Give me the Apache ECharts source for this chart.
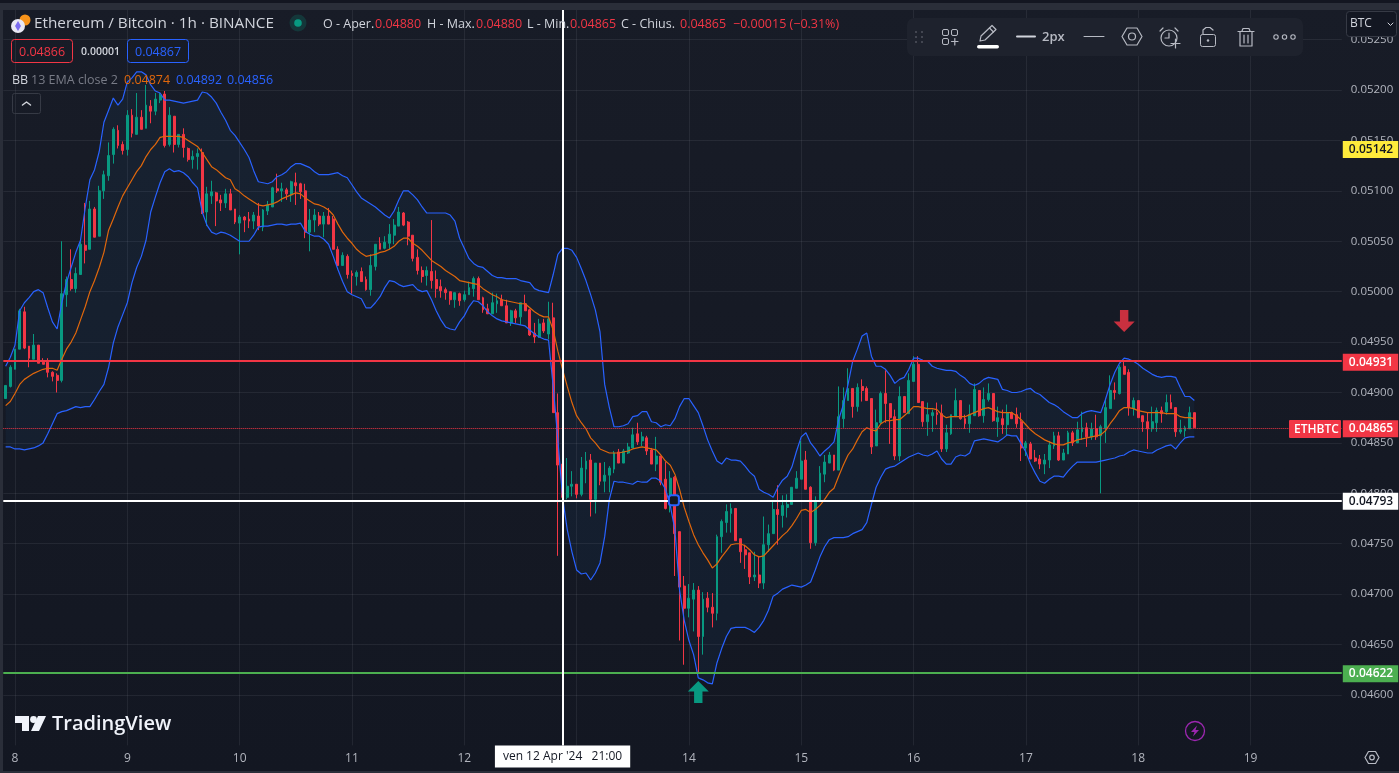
<!DOCTYPE html>
<html>
<head>
<meta charset="utf-8">
<title>ETH/BTC 1h</title>
<style>html,body{margin:0;padding:0;background:#131722;overflow:hidden}#chart{width:1399px;height:773px}</style>
<script src="https://cdn.jsdelivr.net/npm/echarts@6/dist/echarts.min.js"></script>
</head>
<body>
<div id="chart"></div>
<script>
// ETH/BTC hourly candles, Apr 7 22:00 through Apr 18 12:00. Prices are in units of 0.00001 BTC.
const openPrices = [4894,4906,
4923,4943,4980,4946,4933,4947,4930,4930,4920,4917,4912,4997,5012,5003,5017,5046,5042,5082,5055,5100,5115,5136,5160,5146,
5141,5175,5156,5173,5162,5184,5179,5190,5196,5146,5174,5146,5156,5142,5131,5134,5138,5079,5095,5098,5091,5088,5097,5082,
5068,5074,5072,5070,5075,5064,5080,5084,5102,5100,5101,5096,5108,5107,5100,5059,5071,5075,5067,5075,5072,5042,5026,5035,
5018,5015,5020,5012,5002,5025,5048,5043,5048,5056,5065,5078,5069,5056,5034,5021,5016,5020,5012,5005,5002,5000,4992,4998,
4992,4997,5003,5013,4994,4983,4978,4988,4992,4986,4969,4981,4975,4988,4982,4959,4955,4969,4958,4974,4880,4829,4796,4807,
4809,4799,4824,4833,4794,4830,4812,4818,4824,4841,4830,4840,4845,4859,4852,4855,4843,4829,4837,4814,4794,4816,4762,4708,
4686,4695,4704,4658,4696,4687,4681,4757,4771,4780,4785,4755,4744,4741,4717,4719,4711,4749,4760,4784,4778,4786,4789,4805,
4814,4833,4806,4751,4792,4819,4830,4838,4823,4874,4892,4904,4886,4906,4904,4894,4847,4870,4899,4889,4876,4837,4896,4879,
4911,4928,4891,4871,4877,4880,4879,4844,4859,4876,4892,4874,4869,4877,4902,4877,4893,4899,4871,4874,4868,4880,4878,4871,
4845,4849,4835,4834,4829,4833,4847,4857,4833,4839,4860,4850,4861,4865,4856,4864,4857,4864,4884,4902,4899,4926,4920,4884,
4892,4877,4871,4864,4870,4882,4881,4890,4885,4861,4862,4864,4880];
const closePrices = [4907,4925,
4943,4981,4944,4934,4947,4929,4928,4920,4916,4912,4998,5012,5003,5018,5047,5041,5082,5054,5100,5116,5135,5161,5145,5140,
5175,5157,5173,5161,5185,5179,5191,5195,5145,5175,5146,5156,5143,5131,5134,5137,5078,5097,5099,5090,5088,5097,5081,5069,
5074,5071,5070,5076,5065,5081,5086,5103,5100,5102,5097,5109,5105,5099,5059,5071,5076,5067,5075,5067,5042,5026,5036,5017,
5016,5019,5010,5002,5026,5047,5042,5049,5057,5066,5079,5066,5055,5033,5021,5015,5021,5011,5003,5001,4999,4992,4999,4991,
4997,5004,5013,4992,4982,4978,4989,4991,4986,4969,4981,4974,4989,4981,4957,4955,4968,4961,4973,4880,4828,4796,4807,4809,
4799,4825,4832,4794,4830,4812,4818,4825,4840,4830,4842,4846,4858,4851,4856,4842,4829,4837,4811,4785,4815,4760,4707,4686,
4696,4704,4658,4695,4687,4681,4757,4772,4782,4785,4753,4742,4739,4717,4719,4711,4749,4760,4784,4779,4788,4789,4806,4815,
4832,4804,4751,4792,4820,4831,4838,4823,4876,4892,4904,4886,4905,4902,4892,4846,4870,4899,4889,4875,4837,4896,4880,4912,
4928,4890,4871,4878,4880,4878,4844,4860,4878,4892,4874,4869,4878,4903,4877,4893,4899,4872,4875,4868,4880,4874,4869,4845,
4850,4834,4832,4829,4833,4848,4857,4833,4840,4860,4850,4863,4865,4856,4864,4856,4866,4885,4902,4900,4925,4918,4885,4892,
4875,4871,4864,4871,4882,4879,4890,4884,4861,4863,4865,4880,4865];
const lowPrices = [4894,4905,
4923,4943,4943,4925,4933,4929,4928,4915,4911,4900,4910,4985,5001,4999,5017,5028,5042,5054,5055,5092,5110,5127,5142,5136,
5135,5153,5156,5161,5162,5167,5175,5187,5143,5144,5138,5143,5133,5129,5122,5121,5077,5065,5087,5065,5080,5083,5081,5067,
5037,5059,5063,5062,5061,5060,5076,5084,5098,5089,5091,5089,5086,5092,5053,5040,5059,5065,5054,5067,5042,5026,5026,5013,
4998,5006,5010,5001,4996,5021,5042,5042,5042,5047,5065,5065,5046,5030,5017,5009,5006,5003,4994,4994,4992,4987,4984,4986,
4990,4997,4995,4992,4979,4978,4978,4979,4986,4969,4966,4969,4967,4981,4956,4949,4954,4959,4953,4880,4738,4786,4794,4797,
4795,4797,4810,4777,4780,4808,4801,4801,4820,4830,4830,4839,4845,4848,4847,4838,4829,4822,4808,4784,4781,4718,4654,4630,
4677,4663,4622,4640,4682,4667,4674,4741,4761,4761,4753,4731,4725,4710,4713,4706,4705,4742,4760,4749,4766,4776,4789,4805,
4814,4804,4745,4748,4792,4811,4830,4822,4823,4865,4892,4875,4881,4891,4892,4839,4847,4869,4870,4849,4833,4832,4880,4879,
4911,4890,4866,4857,4861,4868,4841,4841,4858,4876,4873,4864,4860,4877,4876,4870,4891,4871,4856,4859,4857,4874,4865,4832,
4837,4834,4831,4824,4819,4825,4844,4832,4833,4839,4847,4850,4853,4846,4853,4853,4800,4850,4884,4893,4898,4918,4877,4877,
4875,4861,4844,4861,4861,4870,4878,4884,4856,4859,4856,4864,4865];
const highPrices = [4907,4927,
4943,4983,4985,4946,4958,4947,4934,4934,4921,4919,5050,5015,5042,5024,5050,5088,5090,5084,5105,5120,5148,5163,5165,5149,
5180,5181,5197,5180,5205,5190,5197,5197,5199,5183,5174,5156,5162,5143,5140,5142,5142,5104,5110,5099,5096,5102,5102,5082,
5076,5075,5079,5079,5088,5082,5090,5104,5117,5108,5103,5110,5118,5108,5107,5082,5082,5079,5079,5083,5075,5045,5039,5037,
5021,5021,5024,5015,5037,5047,5054,5055,5067,5072,5084,5079,5070,5056,5042,5025,5025,5071,5021,5012,5004,5000,4999,4999,
5001,5010,5015,5015,4995,4988,4999,4998,4997,4992,4982,4983,4989,4997,4983,4969,4973,4973,4990,4989,4899,4847,4835,4822,
4809,4836,4841,4839,4830,4830,4831,4827,4842,4844,4844,4850,4865,4870,4861,4857,4845,4856,4837,4831,4822,4817,4762,4718,
4710,4711,4708,4702,4702,4701,4759,4774,4789,4790,4785,4755,4749,4741,4742,4737,4777,4769,4793,4808,4798,4799,4806,4822,
4852,4842,4807,4797,4827,4838,4841,4838,4906,4905,4924,4904,4909,4913,4906,4894,4883,4901,4922,4889,4883,4906,4896,4919,
4936,4936,4891,4890,4883,4890,4888,4868,4878,4904,4892,4878,4888,4909,4902,4905,4909,4899,4886,4883,4888,4881,4885,4880,
4852,4851,4843,4838,4839,4852,4861,4861,4844,4862,4862,4871,4881,4870,4870,4878,4868,4894,4917,4910,4927,4931,4923,4895,
4892,4877,4880,4886,4885,4886,4898,4898,4885,4873,4867,4886,4880];

// Bollinger Bands (13, EMA, close, 2).
const bbBasis = [4887,4891,
4899,4908,4913,4916,4919,4921,4923,4924,4924,4922,4933,4943,4950,4959,4972,4985,5000,5011,5024,5039,5061,5072,5084,5095,
5103,5111,5119,5125,5134,5141,5146,5153,5154,5154,5154,5154,5153,5150,5147,5144,5138,5131,5124,5121,5117,5113,5111,5102,
5099,5095,5092,5089,5086,5085,5086,5087,5089,5092,5094,5096,5098,5097,5093,5090,5087,5086,5084,5081,5076,5067,5059,5053,
5048,5042,5038,5035,5036,5037,5039,5040,5042,5045,5050,5053,5053,5048,5045,5041,5036,5031,5028,5025,5021,5018,5015,5011,
5010,5009,5008,5007,5003,5000,4997,4995,4992,4991,4990,4989,4988,4988,4984,4980,4977,4975,4975,4962,4941,4923,4906,4890,
4877,4870,4864,4855,4850,4844,4842,4840,4840,4840,4841,4842,4844,4845,4846,4845,4844,4843,4838,4832,4828,4819,4804,4786,
4772,4759,4749,4741,4734,4726,4730,4737,4743,4749,4750,4750,4748,4744,4739,4737,4738,4743,4748,4753,4758,4762,4768,4775,
4783,4784,4781,4784,4788,4794,4801,4805,4817,4828,4838,4844,4853,4861,4865,4863,4862,4869,4872,4872,4873,4873,4877,4881,
4886,4886,4885,4884,4884,4883,4878,4875,4876,4876,4876,4876,4878,4880,4882,4884,4885,4883,4881,4880,4880,4880,4877,4873,
4868,4863,4859,4856,4853,4851,4849,4848,4848,4850,4851,4853,4854,4855,4856,4857,4858,4862,4869,4875,4882,4885,4885,4884,
4882,4881,4880,4880,4880,4880,4879,4879,4879,4876,4875,4875,4874];
const bbUpper = [4926,4935,
4947,4981,4989,4994,5000,5002,4999,4984,4970,4963,4989,5009,5024,5039,5051,5083,5111,5121,5139,5168,5180,5192,5185,5191,
5208,5212,5218,5218,5215,5205,5199,5197,5190,5190,5189,5188,5187,5188,5189,5190,5198,5197,5193,5187,5178,5170,5160,5155,
5148,5141,5133,5120,5109,5108,5107,5109,5114,5116,5119,5124,5127,5127,5125,5123,5119,5116,5116,5116,5117,5118,5115,5113,
5106,5099,5093,5090,5087,5084,5080,5076,5073,5080,5091,5100,5100,5096,5091,5084,5078,5078,5078,5078,5078,5076,5070,5053,
5043,5033,5028,5025,5024,5020,5016,5014,5014,5013,5013,5013,5011,5010,5009,5003,5001,5000,4999,5017,5037,5043,5043,5041,
5034,5023,5011,4997,4982,4960,4908,4885,4866,4866,4867,4869,4876,4877,4881,4881,4871,4870,4866,4868,4867,4874,4886,4894,
4894,4887,4880,4867,4853,4842,4832,4829,4835,4833,4833,4832,4827,4821,4817,4804,4801,4799,4796,4806,4813,4817,4826,4842,
4856,4860,4850,4844,4837,4842,4846,4851,4873,4888,4908,4931,4943,4956,4959,4936,4926,4926,4923,4917,4909,4913,4915,4923,
4934,4934,4932,4931,4926,4924,4923,4922,4922,4921,4917,4914,4909,4907,4909,4913,4915,4914,4913,4903,4902,4900,4900,4901,
4903,4904,4900,4898,4894,4890,4888,4885,4881,4878,4875,4875,4879,4881,4882,4881,4880,4893,4908,4920,4929,4934,4933,4931,
4928,4924,4921,4918,4916,4915,4916,4916,4915,4905,4896,4896,4892];
const bbLower = [4846,4846,
4844,4844,4843,4844,4845,4847,4850,4859,4869,4879,4881,4882,4884,4886,4885,4886,4886,4893,4901,4908,4925,4949,4965,4977,
4989,5009,5024,5035,5051,5079,5094,5108,5119,5122,5119,5120,5118,5114,5108,5103,5079,5066,5059,5057,5059,5058,5056,5053,
5050,5050,5050,5056,5064,5065,5065,5066,5067,5067,5066,5067,5067,5068,5060,5057,5055,5055,5052,5047,5035,5022,5010,5000,
4997,4995,4993,4984,4984,4989,4995,5004,5011,5010,5007,5005,5006,5007,5002,5000,5001,4992,4981,4972,4965,4963,4962,4970,
4976,4985,4991,4990,4986,4980,4976,4973,4971,4970,4969,4968,4967,4966,4962,4958,4955,4953,4952,4906,4853,4796,4764,4742,
4724,4720,4721,4714,4721,4731,4757,4794,4812,4811,4811,4810,4809,4812,4811,4811,4815,4815,4812,4804,4788,4764,4704,4674,
4654,4640,4617,4615,4612,4611,4632,4646,4658,4666,4667,4667,4667,4665,4662,4667,4674,4684,4698,4701,4705,4707,4709,4708,
4707,4709,4712,4724,4737,4747,4754,4756,4756,4756,4757,4760,4762,4764,4771,4789,4806,4816,4824,4826,4827,4830,4833,4836,
4838,4840,4838,4837,4839,4842,4834,4829,4829,4836,4838,4837,4840,4852,4853,4854,4853,4852,4851,4854,4858,4857,4857,4849,
4841,4829,4820,4812,4810,4814,4817,4817,4816,4822,4827,4831,4831,4831,4831,4831,4832,4833,4834,4835,4837,4838,4841,4843,
4842,4841,4840,4840,4843,4845,4847,4848,4844,4850,4855,4856,4856];

// Hours counted from Apr 8 00:00; the axis runs on past the last candle to leave empty room.
const firstHour = -2;
const lastAxisHour = 283;
const firstDayOfMonth = 8;

// Horizontal levels drawn on the chart.
const resistanceLevel = 4931;
const supportLevel = 4622;
const midLevel = 4793;
const lastPrice = 4865;
const alertPrice = 5142;

// Crosshair, annotation arrows and the small anchor marker, keyed by hour and price.
const crosshairHour = 117;
const sellArrow = [237, 4971];
const buyArrow = [146, 4603];
const anchorMarker = [141, 4793];

const UP = '#089981', DOWN = '#f23645', BLUE = '#2962ff', ORANGE = '#e0670c';
const AXIS_TEXT = '#b2b5be', ICON = '#b7bac3';
const UI_FONT = '"Open Sans", "Noto Sans", sans-serif';

const priceText = v => (v / 100000).toFixed(5);
const hours = [];
for (let h = firstHour; h <= lastAxisHour; h++) hours.push(String(h));
const axisIndex = h => h - firstHour;

const candles = openPrices.map((o, i) => [o, closePrices[i], lowPrices[i], highPrices[i]]);
const bbSpan = bbUpper.map((u, i) => u - bbLower[i]);

function levelLine(value, color, width, textColor, type) {
  return {
    yAxis: value,
    lineStyle: { color: width ? color : 'rgba(0,0,0,0)', width: width || 1, type: type || 'solid' },
    label: {
      show: true, position: 'end', distance: 1, offset: [0, 1], formatter: priceText(value),
      color: textColor, backgroundColor: color, padding: [4, 5, 1, 6],
      fontFamily: UI_FONT, fontSize: 12, fontWeight: 600
    }
  };
}

// Overlay helpers
const OVERLAY_Z = 100;
const box = (x, y, w, h, fill, stroke, r) => ({
  type: 'rect', z: OVERLAY_Z, silent: true,
  shape: { x: x, y: y, width: w, height: h, r: r || 0 },
  style: { fill: fill || 'transparent', stroke: stroke || 'transparent', lineWidth: stroke ? 1 : 0 }
});
const label = (x, y, text, color, size, extra) => ({
  type: 'text', z: OVERLAY_Z + 1, silent: true, x: x, y: y + 1,
  style: Object.assign({ text: text, fill: color, font: (size || 12) + 'px ' + UI_FONT, textVerticalAlign: 'middle', verticalAlign: 'middle' }, extra || {})
});
const ring = (cx, cy, r, stroke, width, fill) => ({
  type: 'circle', z: OVERLAY_Z + 1, silent: true, shape: { cx: cx, cy: cy, r: r },
  style: { fill: fill || 'transparent', stroke: stroke || 'transparent', lineWidth: width || 0 }
});
const stroke = (points, color, width, closed) => ({
  type: closed ? 'polygon' : 'polyline', z: OVERLAY_Z + 1, silent: true, shape: { points: points },
  style: { fill: 'transparent', stroke: color || ICON, lineWidth: width || 1.2, lineCap: 'round', lineJoin: 'round' }
});
const solid = (points, color) => ({
  type: 'polygon', z: OVERLAY_Z + 1, silent: true, shape: { points: points }, style: { fill: color }
});

const overlay = [
  // window frame
  box(0, 0, 1399, 3, '#131621'), box(0, 3, 1399, 7, '#2a2e39'), box(0, 3, 3, 770, '#2a2e39'), box(0, 771, 1399, 2, '#2a2e39'),

  // symbol icon
  ring(25, 20, 5.5, null, 0, '#f7931a'),
  ring(18, 26, 7, null, 0, '#e8e8f4'),
  solid([[18, 21], [21, 26], [18, 31], [15, 26]], '#7b6cf0'),
  label(34, 23, 'Ethereum / Bitcoin · 1h · BINANCE', '#d1d4dc', 15.3),
  ring(298, 23, 8.5, null, 0, 'rgba(8,153,129,0.22)'),
  ring(298, 23, 3.8, null, 0, '#089981'),

  // OHLC readout
  label(323, 23, 'O - Aper.', '#d1d4dc', 12.5), label(375, 23, priceText(openPrices[openPrices.length - 1]), DOWN, 12.5),
  label(427, 23, 'H - Max.', '#d1d4dc', 12.5), label(476, 23, priceText(highPrices[highPrices.length - 1]), DOWN, 12.5),
  label(527, 23, 'L - Min.', '#d1d4dc', 12.5), label(570, 23, priceText(lowPrices[lowPrices.length - 1]), DOWN, 12.5),
  label(621, 23, 'C - Chius.', '#d1d4dc', 12.5), label(680, 23, priceText(closePrices[closePrices.length - 1]), DOWN, 12.5),
  label(733, 23, '−0.00015 (−0.31%)', DOWN, 12.5),

  // sell / spread / buy boxes
  box(11.5, 39.5, 61, 23, 'transparent', DOWN, 3), label(19, 51, '0.04866', DOWN, 12.5),
  label(81, 51, '0.00001', '#d1d4dc', 10.5, { font: '600 10.5px ' + UI_FONT }),
  box(127.5, 39.5, 61, 23, 'transparent', BLUE, 3), label(135, 51, '0.04867', BLUE, 12.5),

  // indicator legend
  label(12, 79, 'BB', '#d1d4dc', 12.5), label(31, 79, '13 EMA close 2', '#787b86', 12.5),
  label(124, 79, priceText(bbBasis[bbBasis.length - 1]), ORANGE, 12.5),
  label(176, 79, priceText(bbUpper[bbUpper.length - 1]), BLUE, 12.5),
  label(227, 79, priceText(bbLower[bbLower.length - 1]), BLUE, 12.5),
  box(12.5, 93.5, 28, 20, 'transparent', '#363a45', 2),
  stroke([[22.5, 105], [26.5, 102], [30.5, 105]], '#d1d4dc', 1.5),

  // drawing toolbar
  box(907, 18, 396, 38, '#1e222d', null, 7),
  ring(916, 32, 1, null, 0, '#50535e'), ring(922, 32, 1, null, 0, '#50535e'),
  ring(916, 37, 1, null, 0, '#50535e'), ring(922, 37, 1, null, 0, '#50535e'),
  ring(916, 42, 1, null, 0, '#50535e'), ring(922, 42, 1, null, 0, '#50535e'),
  box(942.5, 29.5, 6, 6, 'transparent', ICON, 1.5), box(951.5, 29.5, 6, 6, 'transparent', ICON, 1.5), box(942.5, 38.5, 6, 6, 'transparent', ICON, 1.5),
  stroke([[951.5, 41.5], [958, 41.5]]), stroke([[954.8, 38.5], [954.8, 45]]),
  stroke([[980, 41], [981, 36], [992, 25.5], [996, 29.5], [985, 40], [980, 41]]), stroke([[989.5, 28], [993.5, 32]]),
  box(977, 45, 22, 3.5, '#ffffff', null, 1.7),
  stroke([[1017, 36.5], [1035, 36.5]], '#d1d4dc', 2), label(1042, 36, '2px', '#b7bac3', 13, { font: '600 13px ' + UI_FONT }),
  stroke([[1084, 36.5], [1104, 36.5]], ICON, 1),
  stroke([[1122, 36.5], [1127, 28], [1137, 28], [1142, 36.5], [1137, 45], [1127, 45]], ICON, 1.2, true),
  ring(1132, 36.5, 3.5, ICON, 1.2),
  ring(1169, 38, 8, ICON, 1.2),
  stroke([[1169, 33], [1169, 38], [1165, 38]]), stroke([[1160, 31], [1163, 28]]), stroke([[1178, 31], [1175, 28]]),
  box(1170, 41, 11, 7, '#1e222d'), stroke([[1171, 43.5], [1180, 43.5]]), stroke([[1175.5, 39], [1175.5, 48]]),
  box(1200.5, 34.5, 15, 12, 'transparent', ICON, 2), stroke([[1203, 34], [1203, 30], [1206, 27.5], [1210, 27.5], [1213, 30]]), ring(1208, 40.5, 1.2, null, 0, ICON),
  stroke([[1238, 31.5], [1254, 31.5]]), stroke([[1242, 31], [1243, 28.5], [1249, 28.5], [1250, 31]]),
  stroke([[1240, 32], [1240, 46], [1252, 46], [1252, 32]]), stroke([[1244, 35], [1244, 43]]), stroke([[1248, 35], [1248, 43]]),
  ring(1276, 37, 2.2, ICON, 1.1), ring(1284.5, 37, 2.2, ICON, 1.1), ring(1293, 37, 2.2, ICON, 1.1),

  // quote currency selector
  box(1346.5, 11.5, 50, 25, '#131722', '#363a45', 3),
  label(1350, 23, 'BTC', '#d1d4dc', 12),
  stroke([[1388, 23], [1390.5, 25.5], [1393, 23]], '#d1d4dc', 1),

  // symbol tag next to the last price
  box(1289, 420, 52, 18, DOWN, null, 1),
  label(1294, 429, 'ETHBTC', '#ffffff', 12, { font: '600 12px ' + UI_FONT }),

  // wordmark
  solid([[15, 716], [29, 716], [29, 731], [22, 731], [22, 723], [15, 723]], '#f0f3fa'),
  ring(33.5, 719.5, 3.4, null, 0, '#f0f3fa'),
  solid([[38, 716], [46, 716], [39, 731], [31, 731]], '#f0f3fa'),
  label(52, 723, 'TradingView', '#f0f3fa', 20, { font: '600 20px ' + UI_FONT }),

  // bolt badge and scale settings
  ring(1195, 731, 9.5, '#9c27b0', 1.3),
  solid([[1197, 725.5], [1191, 732], [1194.5, 732], [1193, 736.5], [1199, 730], [1195.5, 730]], '#9c27b0'),
  stroke([[1365, 757.5], [1368.5, 751.5], [1375.5, 751.5], [1379, 757.5], [1375.5, 763.5], [1368.5, 763.5]], ICON, 1.2, true),
  ring(1372, 757.5, 2.3, ICON, 1.2)
];

const chart = echarts.init(document.getElementById('chart'), null, { renderer: 'canvas' });
chart.setOption({
  animation: false,
  backgroundColor: { type: 'linear', x: 0, y: 0, x2: 0, y2: 1, colorStops: [{ offset: 0, color: '#181c27' }, { offset: 1, color: '#131722' }] },
  grid: { left: 3.3, top: 9.34, width: 1338.48, height: 736.04, containLabel: false },
  xAxis: {
    type: 'category', data: hours, boundaryGap: true,
    axisLine: { show: false }, axisTick: { show: false },
    axisLabel: {
      interval: (i, v) => Number(v) % 24 === 0,
      formatter: v => String(firstDayOfMonth + Number(v) / 24),
      color: AXIS_TEXT, fontFamily: UI_FONT, fontSize: 12, margin: 7, hideOverlap: false
    },
    splitLine: {
      show: true, alignWithLabel: true,
      interval: (i, v) => Number(v) % 24 === 0,
      lineStyle: { color: 'rgba(240,243,250,0.07)', width: 1 }
    }
  },
  yAxis: {
    type: 'value', position: 'right', min: 4550, max: 5280, interval: 50, scale: true,
    axisLine: { show: false }, axisTick: { show: false },
    axisLabel: { formatter: priceText, color: AXIS_TEXT, fontFamily: UI_FONT, fontSize: 11.5, margin: 9, padding: [4, 0, 0, 0], showMinLabel: false, showMaxLabel: false },
    splitLine: { show: true, showMinLine: false, showMaxLine: false, lineStyle: { color: 'rgba(240,243,250,0.07)', width: 1 } }
  },
  series: [
    { name: 'band floor', type: 'line', data: bbLower, stack: 'bb', symbol: 'none', silent: true, z: 1,
      lineStyle: { opacity: 0 }, areaStyle: { opacity: 0 } },
    { name: 'band fill', type: 'line', data: bbSpan, stack: 'bb', symbol: 'none', silent: true, z: 1,
      lineStyle: { opacity: 0 }, areaStyle: { color: 'rgba(33,150,243,0.055)', opacity: 1 } },
    {
      name: 'ETHBTC', type: 'candlestick', data: candles, barWidth: 2.4, z: 2, silent: true,
      itemStyle: { color: UP, color0: DOWN, borderColor: UP, borderColor0: DOWN, borderWidth: 1 },
      markLine: {
        silent: true, symbol: 'none', animation: false, precision: 0,
        data: [
          levelLine(lastPrice, DOWN, 1, '#ffffff', 'dotted'),
          levelLine(resistanceLevel, DOWN, 2, '#ffffff'),
          levelLine(midLevel, '#ffffff', 2, '#131722'),
          levelLine(supportLevel, '#4caf50', 2, '#ffffff'),
          Object.assign(levelLine(alertPrice, '#ffeb3b', 0, '#131722')),
          {
            xAxis: axisIndex(crosshairHour),
            lineStyle: { color: '#ffffff', width: 2, type: 'solid' },
            label: {
              show: true, position: 'start', distance: 0, formatter: "ven 12 Apr '24   21:00",
              color: '#131722', backgroundColor: '#ffffff', padding: [5, 8], fontFamily: UI_FONT, fontSize: 12
            }
          }
        ]
      },
      markPoint: {
        silent: true, animation: false, z: 10,
        data: [
          { coord: [axisIndex(sellArrow[0]), sellArrow[1]], symbol: 'path://M6 0H14V11H20L10 21L0 11H6Z', symbolSize: [21, 22], itemStyle: { color: '#c8303f' }, label: { show: false } },
          { coord: [axisIndex(buyArrow[0]), buyArrow[1]], symbol: 'path://M10 0L20 10H14V21H6V10H0Z', symbolSize: [21, 22], itemStyle: { color: UP }, label: { show: false } },
          { coord: [axisIndex(anchorMarker[0]), anchorMarker[1]], symbol: 'roundRect', symbolSize: 10, symbolOffset: [-1, 0], itemStyle: { color: '#131722', borderColor: BLUE, borderWidth: 2 }, label: { show: false } }
        ]
      }
    },
    { name: 'BB basis', type: 'line', data: bbBasis, symbol: 'none', silent: true, z: 3, lineStyle: { color: ORANGE, width: 1.2 } },
    { name: 'BB upper', type: 'line', data: bbUpper, symbol: 'none', silent: true, z: 3, lineStyle: { color: BLUE, width: 1.2 } },
    { name: 'BB lower', type: 'line', data: bbLower, symbol: 'none', silent: true, z: 3, lineStyle: { color: BLUE, width: 1.2 } }
  ],
  graphic: { elements: overlay }
});
</script>
</body>
</html>
